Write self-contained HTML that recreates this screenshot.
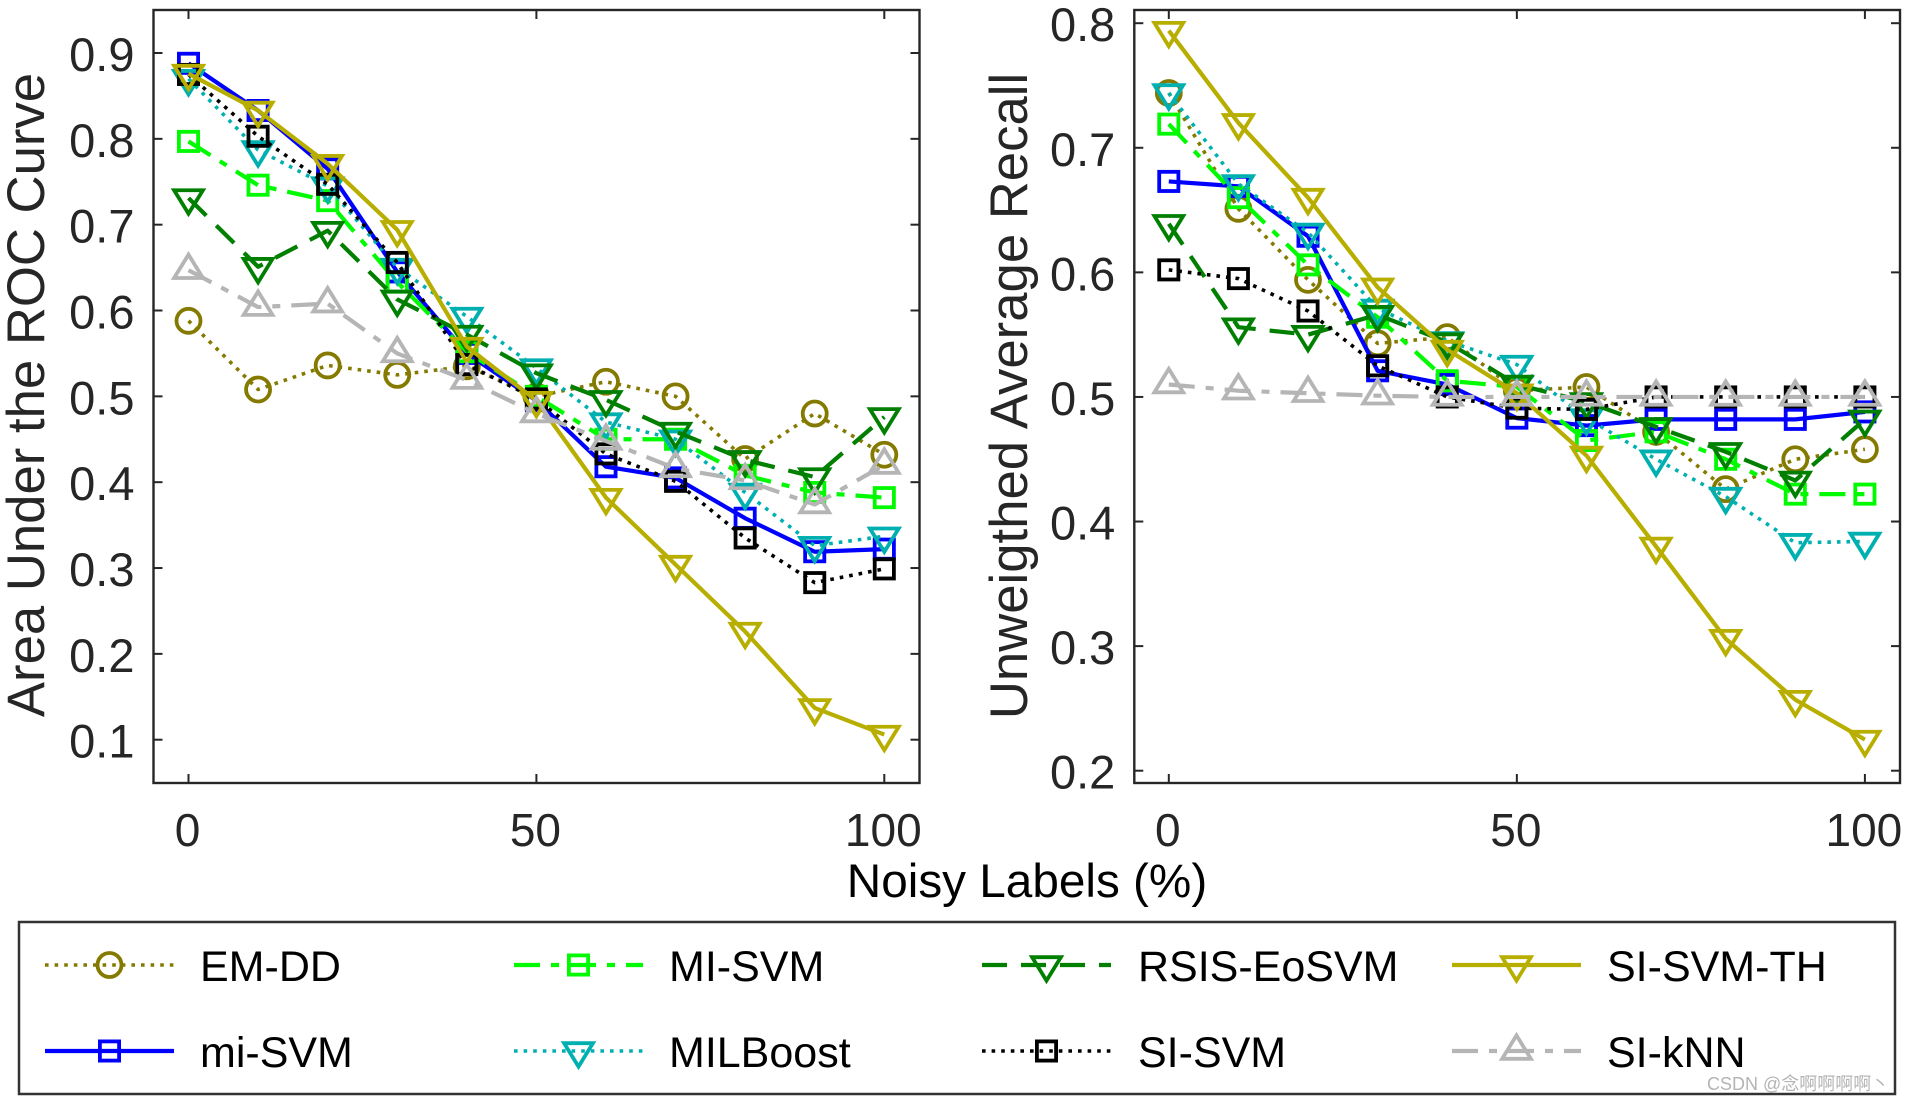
<!DOCTYPE html>
<html lang="en">
<head>
<meta charset="utf-8">
<title>Noisy label robustness chart</title>
<style>
html,body{margin:0;padding:0;background:#fff;width:1906px;height:1102px;overflow:hidden}
svg{display:block;font-family:"Liberation Sans","Noto Sans CJK SC",sans-serif}
</style>
</head>
<body>
<svg id="figure" xmlns="http://www.w3.org/2000/svg" width="1906" height="1102" viewBox="0 0 1906 1102">
  <rect x="0" y="0" width="1906" height="1102" fill="#fff"/>
  <g id="left-plot"></g>
  <g id="right-plot"></g>
  <text transform="translate(44 395) rotate(-90)" text-anchor="middle" font-size="52.7" fill="#262626">Area Under the ROC Curve</text>
  <text transform="translate(1027 396) rotate(-90)" text-anchor="middle" font-size="52.7" fill="#262626">Unweigthed Average Recall</text>
  <text x="1027" y="897" text-anchor="middle" font-size="47.7" fill="#000">Noisy Labels (%)</text>
  <rect x="19" y="922" width="1876" height="172" fill="#fff" stroke="#333" stroke-width="2.5"/>
  <g id="legend"></g>
  <text x="1707" y="1090" font-size="18" fill="#b4b4b4">CSDN @念啊啊啊啊丶</text>
</svg>
<script>
const noiseLevels = [0, 10, 20, 30, 40, 50, 60, 70, 80, 90, 100];
const xTicks = [0, 50, 100];
const aucTicks = [0.1, 0.2, 0.3, 0.4, 0.5, 0.6, 0.7, 0.8, 0.9];
const uarTicks = [0.2, 0.3, 0.4, 0.5, 0.6, 0.7, 0.8];

const aucEmDd = [0.588, 0.508, 0.536, 0.525, 0.535, 0.5, 0.517, 0.5, 0.427, 0.48, 0.432];
const aucMiSvm = [0.888, 0.833, 0.765, 0.645, 0.55, 0.495, 0.418, 0.405, 0.358, 0.319, 0.322];
const aucMISVM = [0.797, 0.746, 0.728, 0.633, 0.552, 0.5, 0.45, 0.45, 0.408, 0.388, 0.382];
const aucMilBoost = [0.87, 0.787, 0.745, 0.65, 0.593, 0.533, 0.47, 0.45, 0.388, 0.326, 0.337];
const aucRsis = [0.731, 0.651, 0.693, 0.613, 0.572, 0.527, 0.496, 0.459, 0.426, 0.406, 0.476];
const aucSiSvm = [0.875, 0.803, 0.747, 0.656, 0.537, 0.497, 0.433, 0.401, 0.335, 0.283, 0.299];
const aucSiSvmTh = [0.876, 0.833, 0.771, 0.694, 0.558, 0.495, 0.382, 0.304, 0.226, 0.137, 0.106];
const aucSiKnn = [0.647, 0.604, 0.608, 0.55, 0.519, 0.48, 0.448, 0.416, 0.402, 0.374, 0.42];

const uarEmDd = [0.744, 0.651, 0.594, 0.543, 0.548, 0.505, 0.508, 0.472, 0.426, 0.45, 0.458];
const uarMiSvm = [0.673, 0.669, 0.629, 0.521, 0.51, 0.483, 0.477, 0.482, 0.482, 0.482, 0.488];
const uarMISVM = [0.719, 0.66, 0.606, 0.564, 0.513, 0.508, 0.465, 0.472, 0.45, 0.422, 0.422];
const uarMilBoost = [0.744, 0.671, 0.632, 0.571, 0.545, 0.526, 0.483, 0.45, 0.42, 0.383, 0.384];
const uarRsis = [0.639, 0.556, 0.55, 0.566, 0.544, 0.51, 0.496, 0.476, 0.456, 0.433, 0.482];
const uarSiSvm = [0.602, 0.595, 0.569, 0.525, 0.5, 0.491, 0.49, 0.5, 0.5, 0.5, 0.5];
const uarSiSvmTh = [0.794, 0.72, 0.66, 0.588, 0.538, 0.503, 0.453, 0.38, 0.306, 0.257, 0.225];
const uarSiKnn = [0.51, 0.505, 0.503, 0.501, 0.5, 0.5, 0.5, 0.5, 0.5, 0.5, 0.5];

const seriesNames = ['EM-DD', 'mi-SVM', 'MI-SVM', 'MILBoost', 'RSIS-EoSVM', 'SI-SVM', 'SI-SVM-TH', 'SI-kNN'];

const NS = 'http://www.w3.org/2000/svg';
const styles = {
  'EM-DD': {color: '#857a00', dash: '3.6 6', width: 3.6, marker: 'circle'},
  'mi-SVM': {color: '#0000ff', dash: '', width: 4.2, marker: 'square'},
  'MI-SVM': {color: '#00fa00', dash: '26 11 8 11', width: 4.2, marker: 'square'},
  'MILBoost': {color: '#00b0b0', dash: '3.6 6', width: 3.6, marker: 'down'},
  'RSIS-EoSVM': {color: '#007f00', dash: '25 14', width: 4.2, marker: 'down'},
  'SI-SVM': {color: '#000000', dash: '3.6 6', width: 3.6, marker: 'square'},
  'SI-SVM-TH': {color: '#b8ae00', dash: '', width: 4.2, marker: 'down'},
  'SI-kNN': {color: '#b5b5b5', dash: '26 11 8 11', width: 4.2, marker: 'up'}
};

function make(tag, attrs, parent) {
  const el = document.createElementNS(NS, tag);
  Object.keys(attrs).forEach(function (k) { el.setAttribute(k, attrs[k]); });
  parent.appendChild(el);
  return el;
}

function slug(name) {
  return name.toLowerCase().replace(/[^a-z0-9]+/g, '-');
}

function drawMarker(parent, kind, x, y, color, name) {
  let el;
  const common = {fill: 'none', stroke: color, 'stroke-width': 3.8};
  if (kind === 'circle') {
    el = make('ellipse', Object.assign({cx: x, cy: y, rx: 12, ry: 12}, common), parent);
  } else if (kind === 'square') {
    el = make('rect', Object.assign({x: x - 9.6, y: y - 9.6, width: 19.2, height: 19.2}, common), parent);
  } else if (kind === 'down') {
    el = make('polygon', Object.assign({points: (x - 14.4) + ',' + (y - 7.8) + ' ' + (x + 14.4) + ',' + (y - 7.8) + ' ' + x + ',' + (y + 15.6)}, common), parent);
  } else {
    el = make('polygon', Object.assign({points: (x - 14.4) + ',' + (y + 7.8) + ' ' + (x + 14.4) + ',' + (y + 7.8) + ' ' + x + ',' + (y - 15.6)}, common), parent);
  }
  
  
  return el;
}

function drawPlot(cfg) {
  const g = document.getElementById(cfg.id);
  const xScale = function (v) { return cfg.x0 + (v - 0) * (cfg.x100 - cfg.x0) / 100; };
  const yScale = function (v) { return cfg.yA + (v - cfg.vA) * (cfg.yB - cfg.yA) / (cfg.vB - cfg.vA); };

  const frame = make('rect', {x: cfg.left, y: cfg.top, width: cfg.right - cfg.left, height: cfg.bottom - cfg.top, fill: 'none', stroke: '#262626', 'stroke-width': 2.4}, g);
  
  

  xTicks.forEach(function (t) {
    const x = xScale(t);
    const tickB = make('line', {x1: x, x2: x, y1: cfg.bottom, y2: cfg.bottom - 9, stroke: '#262626', 'stroke-width': 2}, g);
    
    
    const tickT = make('line', {x1: x, x2: x, y1: cfg.top, y2: cfg.top + 9, stroke: '#262626', 'stroke-width': 2}, g);
    
    
    const label = make('text', {x: x - 1, y: 846, 'text-anchor': 'middle', 'font-size': 46, fill: '#262626'}, g);
    
    
    label.textContent = String(t);
  });

  cfg.yTicks.forEach(function (t) {
    const y = yScale(t);
    const tickL = make('line', {x1: cfg.left, x2: cfg.left + 9, y1: y, y2: y, stroke: '#262626', 'stroke-width': 2}, g);
    
    
    const tickR = make('line', {x1: cfg.right, x2: cfg.right - 9, y1: y, y2: y, stroke: '#262626', 'stroke-width': 2}, g);
    
    
    const label = make('text', {x: cfg.left - 19, y: y + 18, 'text-anchor': 'end', 'font-size': 47, fill: '#262626'}, g);
    
    
    label.textContent = t.toFixed(1);
  });

  seriesNames.forEach(function (name, i) {
    const s = styles[name];
    const values = cfg.series[i];
    const group = make('g', {}, g);
    
    
    const pts = noiseLevels.map(function (n, j) { return xScale(n) + ',' + yScale(values[j]); }).join(' ');
    const attrs = {points: pts, fill: 'none', stroke: s.color, 'stroke-width': s.width, 'stroke-linejoin': 'round'};
    if (s.dash) { attrs['stroke-dasharray'] = s.dash; }
    const line = make('polyline', attrs, group);
    
    
    noiseLevels.forEach(function (n, j) {
      drawMarker(group, s.marker, xScale(n), yScale(values[j]), s.color, cfg.prefix + '-point-' + slug(name));
    });
  });
}

drawPlot({
  id: 'left-plot', prefix: 'auc',
  left: 153.5, right: 919.5, top: 10, bottom: 783,
  x0: 188.5, x100: 884.3,
  vA: 0.9, yA: 53, vB: 0.1, yB: 739.7,
  yTicks: aucTicks,
  series: [aucEmDd, aucMiSvm, aucMISVM, aucMilBoost, aucRsis, aucSiSvm, aucSiSvmTh, aucSiKnn]
});

drawPlot({
  id: 'right-plot', prefix: 'uar',
  left: 1134.3, right: 1900, top: 10, bottom: 783,
  x0: 1168.8, x100: 1864.9,
  vA: 0.8, yA: 23.2, vB: 0.2, yB: 770.7,
  yTicks: uarTicks,
  series: [uarEmDd, uarMiSvm, uarMISVM, uarMilBoost, uarRsis, uarSiSvm, uarSiSvmTh, uarSiKnn]
});

const legendOrder = ['EM-DD', 'MI-SVM', 'RSIS-EoSVM', 'SI-SVM-TH', 'mi-SVM', 'MILBoost', 'SI-SVM', 'SI-kNN'];
const legendRoot = document.getElementById('legend');
legendOrder.forEach(function (name, i) {
  const col = i % 4;
  const row = Math.floor(i / 4);
  const lineStart = [45, 514, 982, 1452][col];
  const textStart = [200, 669, 1138, 1607][col];
  const y = row === 0 ? 965 : 1051;
  const baseline = row === 0 ? 981 : 1067;
  const s = styles[name];
  const entry = make('g', {}, legendRoot);
  
  
  const attrs = {x1: lineStart, x2: lineStart + 129, y1: y, y2: y, stroke: s.color, 'stroke-width': s.width};
  if (s.dash) { attrs['stroke-dasharray'] = s.dash; }
  const sample = make('line', attrs, entry);
  
  
  drawMarker(entry, s.marker, lineStart + 64.5, y, s.color, 'legend-marker-' + slug(name));
  const label = make('text', {x: textStart, y: baseline, 'font-size': 43, fill: '#000'}, entry);
  
  
  label.textContent = name;
});
</script>
</body>
</html>
